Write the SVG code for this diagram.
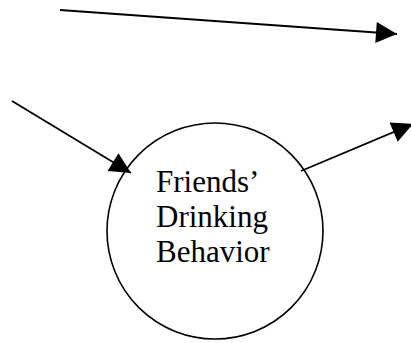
<svg xmlns="http://www.w3.org/2000/svg" width="411" height="343" viewBox="0 0 411 343">
<defs>
<marker id="ah" viewBox="0 0 10 10" refX="10" refY="5" markerUnits="userSpaceOnUse" markerWidth="22" markerHeight="21" orient="auto">
<path d="M0,0 L10,5 L0,10 z" fill="#000"/>
</marker>
<style>
.c{stroke:#000;stroke-width:1.8;fill:none;marker-end:url(#ah)}
.n{stroke:#000;stroke-width:1.6;fill:#fff}
.t{font-size:31px;fill:#000}
</style>
</defs>
<g id="node-friends">
<circle class="n" cx="215" cy="231" r="108"/>
<text class="t" font-family="'Liberation Serif', 'DejaVu Serif', serif" x="156" y="192">Friends’</text>
<text class="t" font-family="'Liberation Serif', 'DejaVu Serif', serif" x="156" y="227">Drinking</text>
<text class="t" font-family="'Liberation Serif', 'DejaVu Serif', serif" x="156" y="262">Behavior</text>
</g>
<g id="connectors">
<line class="c" x1="60" y1="10" x2="397" y2="34"/>
<line class="c" x1="12" y1="101" x2="131" y2="173"/>
<line class="c" x1="301" y1="171" x2="413" y2="124"/>
</g>
</svg>
